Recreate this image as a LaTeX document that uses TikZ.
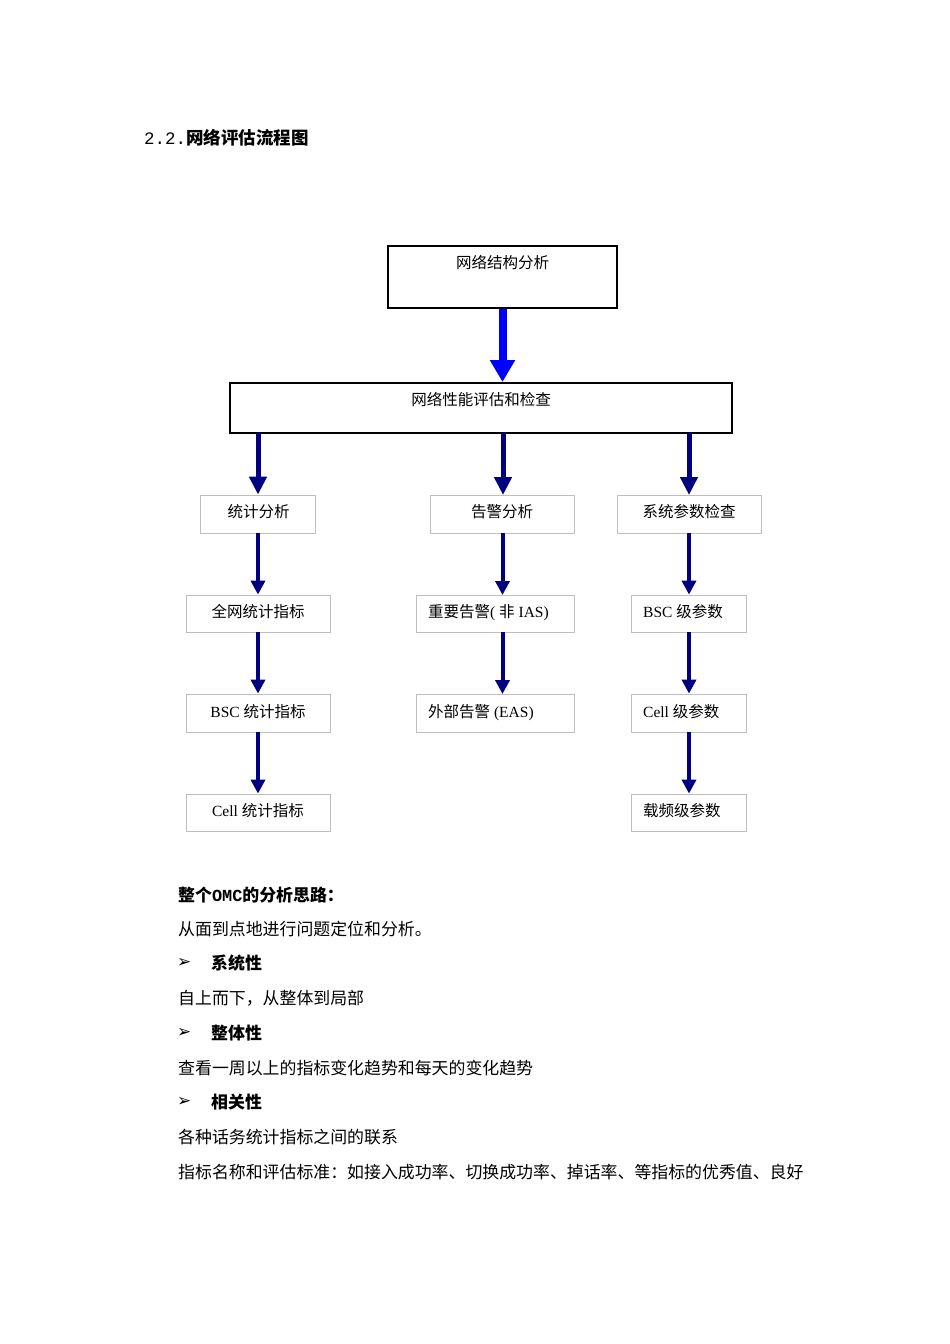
\documentclass[tikz,border=0pt]{standalone}
\usepackage{fontspec}
\setmainfont{Liberation Serif}
\setmonofont{Liberation Mono}
\newfontfamily\cjk{Noto Sans CJK SC}
\newfontfamily\djsym{DejaVu Sans}
\usetikzlibrary{arrows.meta}
\newcommand{\lat}[1]{{\rmfamily #1}}
\definecolor{navy}{RGB}{0,0,128}
\definecolor{gbox}{RGB}{190,190,190}
\tikzset{
  big/.style={draw=black,line width=2pt,inner sep=0pt},
  sm/.style={draw=gbox,line width=0.8pt,inner sep=0pt},
  lbl/.style={font=\cjk\fontsize{15.5}{17}\selectfont,inner sep=0pt,anchor=north},
  lbll/.style={font=\cjk\fontsize{15.5}{17}\selectfont,inner sep=0pt,anchor=north west},
  barr/.style={draw=blue,line width=8pt,-{Triangle[width=24pt,length=22pt]}},
  narr/.style={draw=navy,line width=5pt,-{Triangle[width=17pt,length=18pt]}},
  tarr/.style={draw=navy,line width=4pt,-{Triangle[width=14pt,length=14pt]}},
  body/.style={font=\cjk\fontsize{16.9}{19}\selectfont,inner sep=0pt,anchor=west},
  bul/.style={font=\djsym\fontsize{17}{19}\selectfont,inner sep=0pt,anchor=west},
}
\begin{document}
\begin{tikzpicture}[x=1pt,y=-1pt]
\useasboundingbox (0,0) rectangle (950,1344);
% boxes
\node[big,minimum width=229pt,minimum height=62pt] (a) at (502.5,277) {};
\node[big,minimum width=502pt,minimum height=50pt] (b) at (481,408) {};
\node[sm,minimum width=115pt,minimum height=38pt] (c1) at (258,514) {};
\node[sm,minimum width=144pt,minimum height=38pt] (c2) at (502,514) {};
\node[sm,minimum width=144pt,minimum height=38pt] (c3) at (689,514) {};
\node[sm,minimum width=144pt,minimum height=37pt] (d1) at (258,613.5) {};
\node[sm,minimum width=158pt,minimum height=37pt] (d2) at (495,613.5) {};
\node[sm,minimum width=115pt,minimum height=37pt] (d3) at (689,613.5) {};
\node[sm,minimum width=144pt,minimum height=38pt] (e1) at (258,713) {};
\node[sm,minimum width=158pt,minimum height=38pt] (e2) at (495,713) {};
\node[sm,minimum width=115pt,minimum height=38pt] (e3) at (689,713) {};
\node[sm,minimum width=144pt,minimum height=37pt] (f1) at (258,812.5) {};
\node[sm,minimum width=115pt,minimum height=37pt] (f3) at (689,812.5) {};
% labels
\node[lbl] at (502.5,255) {网络结构分析};
\node[lbl] at (481,392) {网络性能评估和检查};
\node[lbl] at (258.5,504) {统计分析};
\node[lbl] at (502,504) {告警分析};
\node[lbl] at (689,504) {系统参数检查};
\node[lbl] at (258,604) {全网统计指标};
\node[lbll] at (428,604) {重要告警\lat{( }非\lat{ IAS)}};
\node[lbll] at (643,604) {\lat{BSC }级参数};
\node[lbl] at (258,704) {\lat{BSC }统计指标};
\node[lbll] at (428,704) {外部告警\lat{ (EAS)}};
\node[lbll] at (643,704) {\lat{Cell }级参数};
\node[lbl] at (258,803) {\lat{Cell }统计指标};
\node[lbll] at (643,803) {载频级参数};
% arrows
\draw[barr] (a.south) -- (a.south |- b.north);
\draw[narr] (258,433) -- (c1.north);
\draw[narr] (503,433) -- (503,495);
\draw[narr] (689,433) -- (689,495);
\draw[tarr] (c1.south) -- (c1.south |- d1.north);
\draw[tarr] (502.5,533) -- (502.5,595);
\draw[tarr] (c3.south) -- (c3.south |- d3.north);
\draw[tarr] (d1.south) -- (e1.north);
\draw[tarr] (502.5,632) -- (502.5,694);
\draw[tarr] (d3.south) -- (e3.north);
\draw[tarr] (e1.south) -- (f1.north);
\draw[tarr] (e3.south) -- (f3.north);
% text
\node[anchor=west,inner sep=0pt,font=\fontsize{17.5}{19}\selectfont] (h) at (144,138) {\ttfamily 2.2.\cjk\bfseries 网络评估流程图};
\node[body] (t1) at (178,895) {\bfseries 整个\ttfamily OMC\cjk\bfseries 的分析思路：};
\node[body] (t2) at (178,929) {从面到点地进行问题定位和分析。};
\node[bul] (s1) at (177,963) {➢};
\node[body] (s1t) at (211,963) {\bfseries 系统性};
\node[body] (t3) at (178,998) {自上而下，从整体到局部};
\node[bul] (s2) at (177,1033) {➢};
\node[body] (s2t) at (211,1033) {\bfseries 整体性};
\node[body] (t4) at (178,1068) {查看一周以上的指标变化趋势和每天的变化趋势};
\node[bul] (s3) at (177,1102) {➢};
\node[body] (s3t) at (211,1102) {\bfseries 相关性};
\node[body] (t5) at (178,1137) {各种话务统计指标之间的联系};
\node[body] (t6) at (178,1172) {指标名称和评估标准：如接入成功率、切换成功率、掉话率、等指标的优秀值、良好};
\end{tikzpicture}
\end{document}
